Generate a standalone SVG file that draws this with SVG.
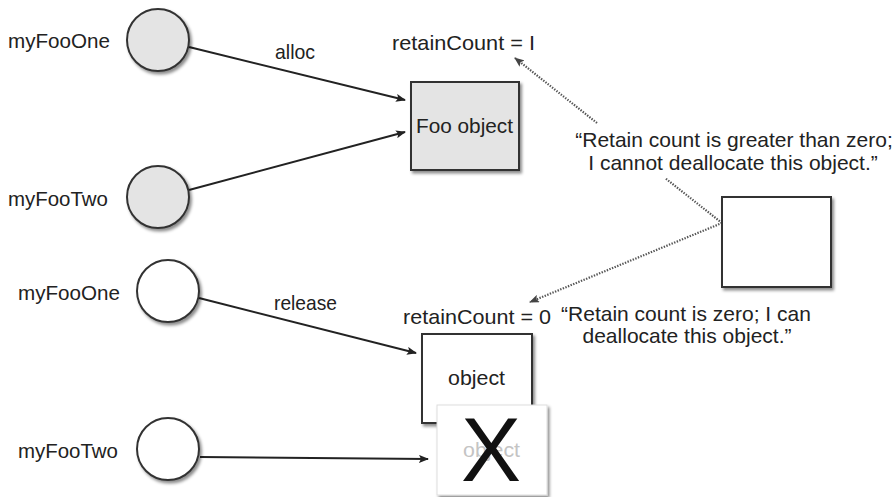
<svg xmlns="http://www.w3.org/2000/svg" width="894" height="497" viewBox="0 0 894 497">
  <style>
    text { font-family: "Liberation Sans", Arial, sans-serif; font-size: 21px; fill: #222; }
    .quote { text-anchor: middle; }
    .ptr { stroke: #333; stroke-width: 2; }
    .ptr-on { fill: #e4e4e4; }
    .ptr-off { fill: #ffffff; }
    .obj { stroke: #333; stroke-width: 2; }
    .solid { stroke: #222; stroke-width: 2; fill: none; }
    .dotted { stroke: #555; stroke-width: 2.2; stroke-dasharray: 1.4 1.4; fill: none; }
    .faded { fill: #c4c4c4; }
  </style>
  <defs>
    <marker id="arrow" viewBox="0 0 10 8" refX="9" refY="4" markerWidth="10" markerHeight="8" markerUnits="userSpaceOnUse" orient="auto">
      <path d="M0,0 L10,4 L0,8 L2,4 z" fill="#222"/>
    </marker>
    <marker id="arrowDot" viewBox="0 0 10 8" refX="9" refY="4" markerWidth="10" markerHeight="8" markerUnits="userSpaceOnUse" orient="auto">
      <path d="M0,0 L10,4 L0,8 L2,4 z" fill="#444"/>
    </marker>
    <filter id="shadow" x="-10%" y="-10%" width="125%" height="125%">
      <feDropShadow dx="2" dy="2.5" stdDeviation="1.6" flood-color="#000" flood-opacity="0.45"/>
    </filter>
  </defs>
  <rect width="894" height="497" fill="#ffffff"/>

  <g id="connectors">
    <line class="solid" x1="189" y1="47" x2="405" y2="100" marker-end="url(#arrow)"/>
    <line class="solid" x1="189" y1="190" x2="405" y2="132" marker-end="url(#arrow)"/>
    <line class="solid" x1="199" y1="298" x2="416" y2="353" marker-end="url(#arrow)"/>
    <line class="solid" x1="200" y1="457" x2="428" y2="459" marker-end="url(#arrow)"/>
    <line class="dotted" x1="597" y1="123" x2="515" y2="58" marker-end="url(#arrowDot)"/>
    <line class="dotted" x1="722" y1="223" x2="665" y2="178"/>
    <line class="dotted" x1="722" y1="223" x2="530" y2="302" marker-end="url(#arrowDot)"/>
  </g>

  <g id="myFooOne-top">
    <circle class="ptr ptr-on" cx="158" cy="40" r="31" filter="url(#shadow)"/>
    <text x="8" y="48" textLength="102" lengthAdjust="spacingAndGlyphs">myFooOne</text>
  </g>
  <g id="myFooTwo-top">
    <circle class="ptr ptr-on" cx="158" cy="197" r="31" filter="url(#shadow)"/>
    <text x="8" y="206" textLength="100" lengthAdjust="spacingAndGlyphs">myFooTwo</text>
  </g>
  <g id="alloc-label">
    <text x="275" y="59" textLength="40" lengthAdjust="spacingAndGlyphs">alloc</text>
  </g>
  <g id="foo-object">
    <rect class="obj" x="411" y="82" width="108" height="88" fill="#e4e4e4" filter="url(#shadow)"/>
    <text x="416" y="133" textLength="97" lengthAdjust="spacingAndGlyphs">Foo object</text>
    <text x="392" y="50" textLength="143" lengthAdjust="spacingAndGlyphs">retainCount = I</text>
  </g>
  <g id="quote-greater">
    <text class="quote" x="734" y="147">“Retain count is greater than zero;</text>
    <text class="quote" x="733" y="170">I cannot deallocate this object.”</text>
  </g>
  <g id="runtime-box">
    <rect class="obj" x="722" y="197" width="109" height="90" fill="#ffffff" filter="url(#shadow)"/>
  </g>

  <g id="myFooOne-bottom">
    <circle class="ptr ptr-off" cx="168" cy="291" r="31" filter="url(#shadow)"/>
    <text x="18" y="300" textLength="102" lengthAdjust="spacingAndGlyphs">myFooOne</text>
  </g>
  <g id="myFooTwo-bottom">
    <circle class="ptr ptr-off" cx="168" cy="449" r="31" filter="url(#shadow)"/>
    <text x="18" y="458" textLength="100" lengthAdjust="spacingAndGlyphs">myFooTwo</text>
  </g>
  <g id="release-label">
    <text x="274" y="310" textLength="63" lengthAdjust="spacingAndGlyphs">release</text>
  </g>
  <g id="released-object">
    <rect class="obj" x="422" y="334" width="110" height="89" fill="#ffffff" filter="url(#shadow)"/>
    <text x="448" y="385" textLength="57" lengthAdjust="spacingAndGlyphs">object</text>
    <text x="403" y="324" textLength="148" lengthAdjust="spacingAndGlyphs">retainCount = 0</text>
  </g>
  <g id="quote-zero">
    <text class="quote" x="686" y="321">“Retain count is zero; I can</text>
    <text class="quote" x="687" y="343">deallocate this object.”</text>
  </g>
  <g id="deallocated-object">
    <rect x="437" y="405" width="110" height="90" fill="#ffffff" stroke="#ddd" stroke-width="1" filter="url(#shadow)"/>
    <text class="faded" x="463" y="457" textLength="57" lengthAdjust="spacingAndGlyphs">object</text>
    <text x="491" y="481" text-anchor="middle" style="font-size:90px;fill:#111">X</text>
  </g>
</svg>
